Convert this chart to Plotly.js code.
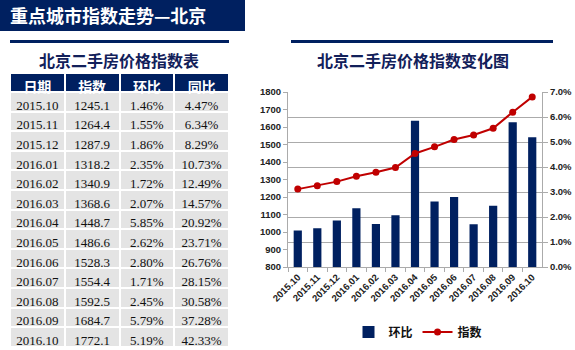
<!DOCTYPE html>
<html><head><meta charset="utf-8">
<script src="https://cdn.plot.ly/plotly-3.0.1.min.js"></script>
<style>html,body{margin:0;padding:0;background:#fff}</style>
</head><body><div id="chart" style="width:575px;height:350px"></div>
<script>
const dates = ['2015.10','2015.11','2015.12','2016.01','2016.02','2016.03','2016.04','2016.05','2016.06','2016.07','2016.08','2016.09','2016.10'];
const indexValues = [1245.1,1264.4,1287.9,1318.2,1340.9,1368.6,1448.7,1486.6,1528.3,1554.4,1592.5,1684.7,1772.1];
const momChange = [1.46,1.55,1.86,2.35,1.72,2.07,5.85,2.62,2.80,1.71,2.45,5.79,5.19];
const yoyChange = [4.47,6.34,8.29,10.73,12.49,14.57,20.92,23.71,26.76,28.15,30.58,37.28,42.33];
const headers = ['日期','指数','环比','同比'];
const seriesNames = ['环比','指数'];
const pageTitle = '重点城市指数走势—北京';
const tableTitle = '北京二手房价格指数表';
const chartTitle = '北京二手房价格指数变化图';

const W = 575, H = 350;
const px = x => x / W, py = y => 1 - y / H;
const NAVY = '#002060', RED = '#c00000', GRID = '#ababab';
const CJK = '"Noto Sans CJK SC", "Noto Sans", sans-serif';
const SANS = '"Liberation Sans", Arial, sans-serif';

const traces = [
  {
    type: 'table',
    domain: {x: [px(10), px(229)], y: [0, py(73)]},
    columnwidth: [1,1,1,1],
    header: {
      values: headers,
      fill: {color: NAVY},
      line: {color: '#ffffff', width: 2},
      font: {family: CJK, size: 14, color: '#ffffff', weight: 'bold'},
      align: 'center',
      height: 19
    },
    cells: {
      values: [dates, indexValues, momChange, yoyChange],
      format: ['', '.1f', '.2f', '.2f'],
      suffix: ['', '', '%', '%'],
      fill: {color: '#e4e4e4'},
      line: {color: '#ffffff', width: 2},
      font: {family: '"Liberation Serif", "Times New Roman", serif', size: 13, color: '#111111'},
      align: 'center',
      height: 19.6
    }
  },
  {
    type: 'bar',
    name: seriesNames[0],
    x: dates,
    y: momChange,
    xaxis: 'x',
    yaxis: 'y',
    width: 0.42,
    marker: {color: NAVY},
    hoverinfo: 'skip'
  },
  {
    type: 'scatter',
    mode: 'lines+markers',
    name: seriesNames[1],
    x: dates,
    y: indexValues,
    xaxis: 'x',
    yaxis: 'y2',
    line: {color: RED, width: 2},
    marker: {color: RED, size: 7, symbol: 'circle'},
    hoverinfo: 'skip'
  }
];

const tickFont = {family: SANS, size: 9.5, color: '#222222', weight: 'bold'};

const layout = {
  width: W, height: H,
  margin: {l: 0, r: 0, t: 0, b: 0},
  paper_bgcolor: '#ffffff',
  plot_bgcolor: 'rgba(0,0,0,0)',
  showlegend: true,
  legend: {
    orientation: 'h', x: px(418), xanchor: 'center', y: py(332), yanchor: 'middle',
    font: {family: CJK, size: 12, color: '#111111', weight: 'bold'},
    itemwidth: 30, traceorder: 'normal'
  },
  xaxis: {
    domain: [px(288), px(542)],
    type: 'category',
    range: [-0.5, 12.5],
    tickson: 'boundaries',
    ticks: 'outside', ticklen: 4, tickcolor: GRID,
    showline: true, linecolor: GRID, linewidth: 1,
    showgrid: false,
    tickangle: -45,
    tickfont: tickFont,
    anchor: 'y'
  },
  yaxis: {
    domain: [py(267), py(92)],
    side: 'right',
    range: [0, 7], dtick: 1, tick0: 0,
    tickformat: '.1f', ticksuffix: '%',
    ticks: 'outside', ticklen: 5, tickcolor: GRID,
    showline: true, linecolor: GRID, linewidth: 1,
    showgrid: true, gridcolor: GRID, gridwidth: 1,
    zeroline: false,
    tickfont: tickFont,
    anchor: 'x'
  },
  yaxis2: {
    overlaying: 'y', side: 'left', anchor: 'x',
    range: [800, 1800], dtick: 100, tick0: 800,
    ticks: 'outside', ticklen: 4, tickcolor: GRID,
    showline: true, linecolor: GRID, linewidth: 1,
    showgrid: false, zeroline: false,
    tickfont: tickFont
  },
  shapes: [
    {type: 'rect', xref: 'paper', yref: 'paper', x0: 0, x1: px(245), y0: py(31), y1: 1, fillcolor: NAVY, line: {width: 0}, layer: 'below'},
    {type: 'rect', xref: 'paper', yref: 'paper', x0: px(10), x1: px(229), y0: py(43), y1: py(40), fillcolor: NAVY, line: {width: 0}},
    {type: 'rect', xref: 'paper', yref: 'paper', x0: px(291), x1: px(553), y0: py(43), y1: py(40), fillcolor: NAVY, line: {width: 0}}
  ],
  annotations: [
    {text: '<b>' + pageTitle + '</b>', xref: 'paper', yref: 'paper', x: px(8), y: py(15), xanchor: 'left', yanchor: 'middle', showarrow: false,
     font: {family: CJK, size: 18, color: '#ffffff'}},
    {text: '<b>' + tableTitle + '</b>', xref: 'paper', yref: 'paper', x: px(119), y: py(60), xanchor: 'center', yanchor: 'middle', showarrow: false,
     font: {family: CJK, size: 16, color: '#12205a'}},
    {text: '<b>' + chartTitle + '</b>', xref: 'paper', yref: 'paper', x: px(413), y: py(60), xanchor: 'center', yanchor: 'middle', showarrow: false,
     font: {family: CJK, size: 16, color: '#12205a'}}
  ]
};

Plotly.newPlot('chart', traces, layout, {displayModeBar: false, staticPlot: true});
</script>
</body></html>
